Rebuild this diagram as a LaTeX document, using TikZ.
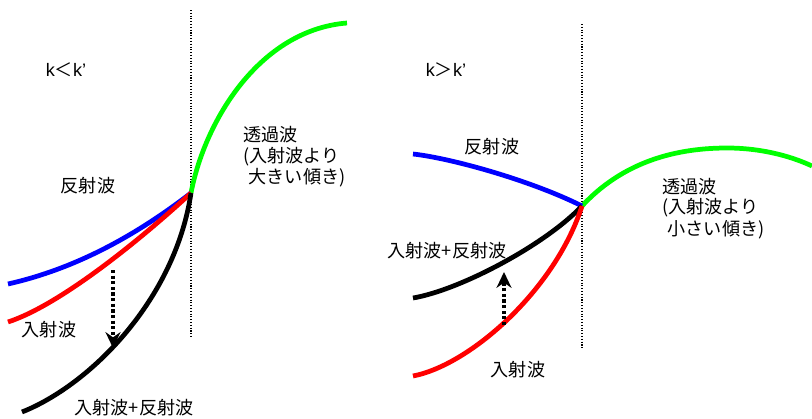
\documentclass[tikz,border=0pt]{standalone}
\usepackage{fontspec}
\setmainfont{Liberation Sans}
\newfontfamily\cjk{Noto Sans CJK JP}
\usetikzlibrary{arrows.meta}
\definecolor{incident}{HTML}{FF0000}
\definecolor{reflected}{HTML}{0000FF}
\definecolor{transmitted}{HTML}{00FF00}

\begin{document}
\begin{tikzpicture}[x=0.02cm, y=-0.02cm,
  every node/.style={font=\fontsize{10.3}{12}\selectfont\cjk, inner sep=0pt},
  wave/.style={line width=2.7pt},
  boundary/.style={densely dotted, line width=0.6pt},
  shiftarrow/.style={dash pattern=on 1.8pt off 1.4pt, line width=1.9pt, -{Stealth[length=9pt,width=8.5pt,sep=0pt]}}]
  \useasboundingbox (0,0) rectangle (812,419);

  % Left panel: k < k'
  \coordinate (jl) at (191,193);
  \draw[boundary] (191,10) -- (191,337);
  \draw[wave, transmitted] (jl) .. controls (205,120) and (260,30) .. (347,23);
  \draw[wave, reflected] (8,284) .. controls (70,270) and (130,240) .. (jl);
  \draw[wave, incident] (8,322) .. controls (60,305) and (140,240) .. (jl);
  \draw[wave, black] (22,412) .. controls (90,385) and (175,300) .. (jl);

  \coordinate (dl1) at (113,270);
  \coordinate (dl2) at (113,348);
  \draw[shiftarrow] (dl1) -- (dl2);

  \node (klt) at (66,70) {\rmfamily k{\cjk ＜}k’};
  \node (refl) at (88,186) {反射波};
  \node[anchor=west] (transl) at (243,135) {透過波};
  \node[anchor=west] (transl2) at (243,157) {(入射波より};
  \node[anchor=west] (transl3) at (243,178) {\hspace{0.3em}大きい傾き)};
  \node (incl) at (49,330) {入射波};
  \node (suml) at (134,408) {入射波+反射波};

  % Right panel: k > k'
  \coordinate (jr) at (582,206);
  \draw[boundary] (582,24) -- (582,350);
  \draw[wave, transmitted] (jr) .. controls (620,165) and (670,148) .. (727,148)
    .. controls (765,148) and (795,158) .. (812,166);
  \draw[wave, reflected] (413,154) .. controls (450,158) and (530,180) .. (jr);
  \draw[wave, black] (413,298) .. controls (460,290) and (545,245) .. (jr);
  \draw[wave, incident] (413,376) .. controls (470,365) and (555,290) .. (jr);

  \coordinate (dr1) at (504,325);
  \coordinate (dr2) at (504,272);
  \draw[shiftarrow] (dr1) -- (dr2);

  \node (kgt) at (446,70) {\rmfamily k{\cjk ＞}k’};
  \node (refr) at (492,147) {反射波};
  \node (sumr) at (447,251) {入射波+反射波};
  \node[anchor=west] (transr) at (662,187) {透過波};
  \node[anchor=west] (transr2) at (662,208) {(入射波より};
  \node[anchor=west] (transr3) at (662,230) {\hspace{0.3em}小さい傾き)};
  \node (incr) at (518,370) {入射波};
\end{tikzpicture}
\end{document}
